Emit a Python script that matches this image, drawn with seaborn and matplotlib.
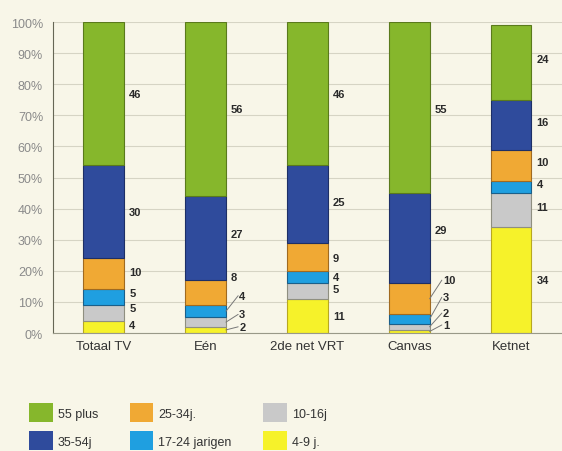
import pandas as pd
import numpy as np
import matplotlib
matplotlib.use("Agg")
import matplotlib.pyplot as plt
from matplotlib.patches import Patch
import seaborn as sns

zenders = ["Totaal TV", "Eén", "2de net VRT", "Canvas", "Ketnet"]
groepen = ["4-9 j.", "10-16j", "17-24 jarigen", "25-34j.", "35-54j", "55 plus"]
aandeel_4_9 = [4, 2, 11, 1, 34]
aandeel_10_16 = [5, 3, 5, 2, 11]
aandeel_17_24 = [5, 4, 4, 3, 4]
aandeel_25_34 = [10, 8, 9, 10, 10]
aandeel_35_54 = [30, 27, 25, 29, 16]
aandeel_55 = [46, 56, 46, 55, 24]

kleuren = {
    "4-9 j.": "#f6f22a",
    "10-16j": "#c9c9c9",
    "17-24 jarigen": "#1f9fe0",
    "25-34j.": "#f0a934",
    "35-54j": "#2f4b9c",
    "55 plus": "#86b72c",
}
randen = {
    "4-9 j.": "#b8a820",
    "10-16j": "#8f8f80",
    "17-24 jarigen": "#1a5f8a",
    "25-34j.": "#a06a20",
    "35-54j": "#1d2f66",
    "55 plus": "#5a7a1c",
}

rows = []
for g, vals in zip(groepen, [aandeel_4_9, aandeel_10_16, aandeel_17_24,
                             aandeel_25_34, aandeel_35_54, aandeel_55]):
    for z, v in zip(zenders, vals):
        rows.append({"zender": z, "groep": g, "waarde": v})
df = pd.DataFrame(rows)

bg = "#f8f6e8"
sns.set_style("white")
plt.rcParams["font.family"] = ["Liberation Sans", "DejaVu Sans"]

fig = plt.figure(figsize=(5.62, 4.52), dpi=100, facecolor=bg)
ax = fig.add_axes([0.094, 0.261, 0.906, 0.688], facecolor=bg)

bottom = np.zeros(len(zenders))
for g in groepen:
    sub = df[df["groep"] == g].set_index("zender").loc[zenders].reset_index()
    sns.barplot(data=sub, x="zender", y="waarde", bottom=bottom, color=kleuren[g],
                edgecolor=randen[g], linewidth=0.8, width=0.4, ax=ax,
                saturation=1)
    bottom = bottom + sub["waarde"].to_numpy()

# labels right of the bars; small segments get pushed outward with a leader line
label_y = {
    0: [2.5, 8, 13, 19.5, 39, 77],
    1: [2, 6, 12, 18, 32, 72],
    2: [5.5, 14, 18, 24, 42, 77],
    3: [2.6, 6.4, 11.5, 17, 33, 72],
    4: [17, 40.5, 48, 55, 68, 88],
}
leaders = {(1, 0), (1, 1), (1, 2), (3, 0), (3, 1), (3, 2), (3, 3)}
for i, z in enumerate(zenders):
    cum = 0
    for j, g in enumerate(groepen):
        v = df[(df["zender"] == z) & (df["groep"] == g)]["waarde"].iloc[0]
        mid = cum + v / 2
        cum += v
        ty = label_y[i][j]
        if (i, j) in leaders:
            tx = i + 0.33
            ax.plot([i + 0.2, tx - 0.01], [mid, ty], color="#777777", lw=0.7)
        else:
            tx = i + 0.25
        ax.text(tx, ty, str(v), ha="left", va="center", fontsize=8,
                fontweight="bold", color="#2a2a2a")

ax.set_xlim(-0.5, 4.5)
ax.set_ylim(0, 100)
ax.set_yticks(range(0, 101, 10))
ax.set_yticklabels([f"{t}%" for t in range(0, 101, 10)], color="#8a8a8a", fontsize=9)
ax.yaxis.grid(True, color="#d6d4c4", lw=0.8)
ax.set_axisbelow(True)
ax.set_xlabel("")
ax.set_ylabel("")
ax.tick_params(axis="x", length=0, labelsize=9.5, labelcolor="#333333", pad=5)
ax.tick_params(axis="y", length=0, pad=7)
ax.set_xticks(np.arange(0.5, 4.5, 1), minor=True)
ax.tick_params(axis="x", which="minor", length=3, color="#999999")
for s in ["top", "right"]:
    ax.spines[s].set_visible(False)
ax.spines["left"].set_color("#666655")
ax.spines["bottom"].set_color("#999988")

volgorde = ["55 plus", "35-54j", "25-34j.", "17-24 jarigen", "10-16j", "4-9 j."]
handles = [Patch(facecolor=kleuren[g], edgecolor="none") for g in volgorde]
fig.legend(handles, volgorde, ncol=3, loc="upper left",
           bbox_to_anchor=(0.032, 0.13), frameon=False, fontsize=9,
           labelcolor="#333333", handlelength=1.9, handleheight=1.9,
           handletextpad=0.4, columnspacing=2.5, labelspacing=0.75)

fig.savefig("out.png", dpi=100, facecolor=bg)
